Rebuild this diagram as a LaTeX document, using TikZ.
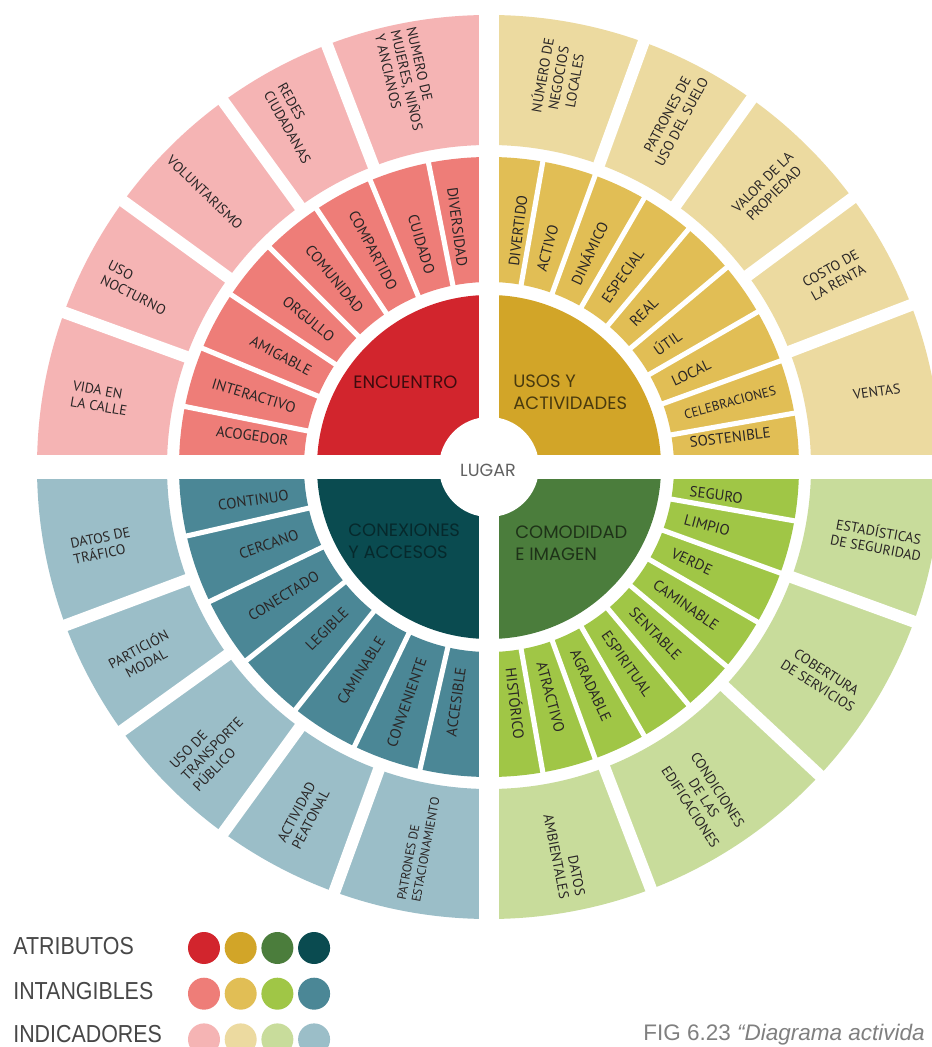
\documentclass[tikz,border=0pt]{standalone}
\usepackage{fontspec}
\setmainfont{PT Sans}
\newfontfamily\attrfont{Poppins}
\newfontfamily\legfont[FakeStretch=0.87]{Liberation Sans}
\newfontfamily\capfont{Liberation Sans}
\usetikzlibrary{positioning}

\definecolor{encA}{HTML}{D2252D}
\definecolor{encI}{HTML}{EE7D78}
\definecolor{encK}{HTML}{F5B4B4}
\definecolor{usoA}{HTML}{D2A528}
\definecolor{usoI}{HTML}{E1BE55}
\definecolor{usoK}{HTML}{ECDAA0}
\definecolor{conA}{HTML}{0A4B50}
\definecolor{conI}{HTML}{4B8796}
\definecolor{conK}{HTML}{9BBEC8}
\definecolor{comA}{HTML}{4B7D3C}
\definecolor{comI}{HTML}{A0C646}
\definecolor{comK}{HTML}{C8DC9B}
\definecolor{ink}{HTML}{2A2626}

\begin{document}
\begin{tikzpicture}[
    x=0.02cm, y=0.02cm,
    every node/.style={inner sep=0pt, text=ink},
    intlab/.style={font=\fontsize{8.5}{10}\selectfont},
    indlab/.style={font=\fontsize{8}{9.2}\selectfont},
    attr/.style={font=\attrfont\fontsize{10.2}{12.5}\selectfont, align=left, anchor=west},
    gapline/.style={white, line width=2.9pt},
    gapwide/.style={white, line width=6.8pt},
    legdot/.style={circle, minimum size=0.64cm},
    legtext/.style={font=\legfont\fontsize{14}{14}\selectfont, text=black!72, anchor=base west},
]

% page, centre of the wheel at the origin (1 unit = 1 px)
\fill[white] (-489,-580) rectangle (443,467);
\useasboundingbox (-489,-580) rectangle (443,467);
\clip (-489,-580) rectangle (443,467);

% =====================================================================
% Quadrants: atributo (disc), intangibles (middle ring), indicadores (outer ring)
% =====================================================================
\foreach \a/\ca/\ci/\ck in {90/encA/encI/encK, 0/usoA/usoI/usoK, 180/conA/conI/conK, 270/comA/comI/comK}{
  \fill[\ca] (0,0) -- (\a:172) arc[start angle=\a, delta angle=90, radius=172] -- cycle;
  \fill[\ci] (\a:185) arc[start angle=\a, delta angle=90, radius=185]
     -- (\a+90:310) arc[start angle=\a+90, delta angle=-90, radius=310] -- cycle;
  \fill[\ck] (\a:322) arc[start angle=\a, delta angle=90, radius=322]
     -- (\a+90:452) arc[start angle=\a+90, delta angle=-90, radius=452] -- cycle;
}

% white cross and hub
\fill[white] (-10,-460) rectangle (10,460);
\fill[white] (-460,-12) rectangle (460,12);
\fill[white] (0,0) circle[radius=50];
\node[font=\attrfont\fontsize{10}{12}\selectfont, text=black!62] (lugar) at (-1,-3) {LUGAR};

% separators, middle ring
\foreach \t in {168.75,157.5,146.25,135,123.75,112.5,101.25,
                10,20,30,40,50,60,70,80,
                192.857,205.714,218.571,231.429,244.286,257.143,
                280,290,300,310,320,330,340,350}
  \draw[gapline] (\t:183) -- (\t:312);

% separators, outer ring
\foreach \t in {160,144,126,111, 70,54.5,36.5,21, 200.5,215.7,234,250, 340,317,291}
  \draw[gapwide] (\t:320) -- (\t:458);

% =====================================================================
% Atributos
% =====================================================================
\node[attr, text=encA!30!black] (encuentro) at (-136,85) {ENCUENTRO};
\node[attr, text=usoA!35!black] (usos) at (24,75) {USOS Y\\ACTIVIDADES};
\node[attr, text=conA!55!black] (conexiones) at (-141,-74) {CONEXIONES\\Y ACCESOS};
\node[attr, text=comA!40!black] (comodidad) at (26,-76) {COMODIDAD\\E IMAGEN};

% =====================================================================
% Intangibles (left half reads inwards, right half outwards)
% =====================================================================
\foreach \t/\w [count=\i] in {172.5/ACOGEDOR, 163.125/INTERACTIVO, 151.875/AMIGABLE,
    140.625/ORGULLO, 129.375/COMUNIDAD, 118.125/COMPARTIDO, 106.875/CUIDADO, 97.5/DIVERSIDAD}
  \node[intlab, anchor=east, rotate=\t+180] (enc\i) at (\t:202) {\w};

\foreach \t/\w [count=\i] in {188/CONTINUO, 199.29/CERCANO, 212.14/CONECTADO, 225/LEGIBLE,
    237.86/CAMINABLE, 250.71/CONVENIENTE, 262/ACCESIBLE}
  \node[intlab, anchor=east, rotate=\t+180] (con\i) at (\t:202) {\w};

\foreach \t/\w [count=\i] in {83/DIVERTIDO, 75/ACTIVO, 65/DINÁMICO, 55/ESPECIAL, 45/REAL,
    35/ÚTIL, 25/LOCAL, 15/{\fontsize{7.5}{9}\selectfont CELEBRACIONES}, 7/SOSTENIBLE}
  \node[intlab, anchor=west, rotate=\t] (uso\i) at (\t:202) {\w};

\foreach \t/\w [count=\i] in {-7/SEGURO, -15/LIMPIO, -25/VERDE, -35/CAMINABLE, -45/SENTABLE,
    -55/ESPIRITUAL, -65/AGRADABLE, -75/ATRACTIVO, -83.5/HISTÓRICO}
  \node[intlab, anchor=west, rotate=\t] (com\i) at (\t:202) {\w};

% =====================================================================
% Indicadores
% =====================================================================
\foreach \t/\r/\al/\w [count=\i] in {
    170/-10/left/{VIDA EN\\LA CALLE},
    153/-27/left/{USO\\NOCTURNO},
    136/-44/center/{VOLUNTARISMO},
    119.5/-60.5/left/{REDES\\CIUDADANAS},
    102/-77/left/{NUMERO DE\\MUJERES, NIÑOS\\Y ANCIANOS},
    80/80/center/{NÚMERO DE\\NEGOCIOS\\LOCALES},
    62/62/center/{PATRONES DE\\USO DEL SUELO},
    45/45/center/{VALOR DE LA\\PROPIEDAD},
    29/29/center/{COSTO DE\\LA RENTA},
    11/8/center/{VENTAS},
    191.5/11.5/left/{DATOS DE\\TRÁFICO},
    208.5/28.5/center/{PARTICIÓN\\MODAL},
    225.5/45.5/left/{USO DE\\TRANSPORTE\\PÚBLICO},
    242/62/center/{ACTIVIDAD\\PEATONAL},
    -10.5/-10.5/center/{ESTADÍSTICAS\\DE SEGURIDAD},
    -32.5/-32.5/center/{COBERTURA\\DE SERVICIOS},
    -57/-57/center/{CONDICIONES\\DE LAS\\EDIFICACIONES},
    -79/-79/right/{DATOS\\AMBIENTALES}}
  \node[indlab, rotate=\r, align=\al] (ind\i) at (\t:395) {\w};
\node[indlab, font=\fontsize{7.2}{8.4}\selectfont, rotate=79.5, align=left]
    (indEst) at (259.5:388) {PATRONES DE\\ESTACIONAMIENTO};

% =====================================================================
% Legend and caption
% =====================================================================
\node[legtext] (atributos) at (-476,-487) {ATRIBUTOS};
\node[legtext] (intangibles) at (-476,-532) {INTANGIBLES};
\node[legtext] (indicadores) at (-476,-575) {INDICADORES};

\node[legdot, fill=encA] (dA1) at (-285,-481) {};
\node[legdot, fill=usoA, right=0.08cm of dA1] (dA2) {};
\node[legdot, fill=comA, right=0.08cm of dA2] (dA3) {};
\node[legdot, fill=conA, right=0.08cm of dA3] (dA4) {};

\node[legdot, fill=encI, below=0.26cm of dA1] (dI1) {};
\node[legdot, fill=usoI, right=0.08cm of dI1] (dI2) {};
\node[legdot, fill=comI, right=0.08cm of dI2] (dI3) {};
\node[legdot, fill=conI, right=0.08cm of dI3] (dI4) {};

\node[legdot, fill=encK, below=0.26cm of dI1] (dK1) {};
\node[legdot, fill=usoK, right=0.08cm of dK1] (dK2) {};
\node[legdot, fill=comK, right=0.08cm of dK2] (dK3) {};
\node[legdot, fill=conK, right=0.08cm of dK3] (dK4) {};

\node[font=\capfont\fontsize{12.8}{14}\selectfont, text=black!50, anchor=base west]
    (caption) at (154,-573) {FIG 6.23 \textit{“Diagrama activida}};

\end{tikzpicture}
\end{document}
